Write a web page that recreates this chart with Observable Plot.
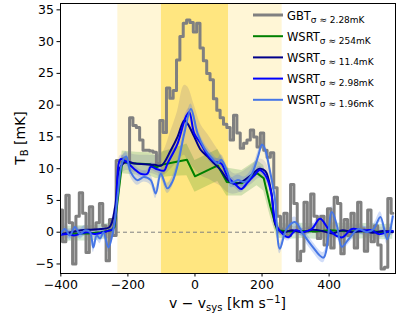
<!DOCTYPE html>
<html><head><meta charset="utf-8">
<script src="https://cdn.jsdelivr.net/npm/d3@7"></script>
<script src="https://cdn.jsdelivr.net/npm/@observablehq/plot@0.6"></script>
<style>body{margin:0;background:#fff} svg{display:block}</style>
</head><body><div id="chart"></div>
<script>
// ---- data ----
const xTicks = [-400, -200, 0, 200, 400];
const yTicks = [-5, 0, 5, 10, 15, 20, 25, 30, 35];

const spanLight = [-230, 260];
const spanDark = [-100, 100];

const gbtV = [-400,-390,-380,-370,-360,-350,-340,-330,-320,-310,-300,-290,-280,-270,-260,-250,-240,-230,-220,-210,-200,-190,-180,-170,-160,-150,-140,-130,-120,-110,-100,-90,-80,-70,-60,-50,-40,-30,-20,-10,0,10,20,30,40,50,60,70,80,90,100,110,120,130,140,150,160,170,180,190,200,210,220,230,240,250,260,270,280,290,300,310,320,330,340,350,360,370,380,390,400,410,420,430,440,450,460,470,480,490,500,510,520,530,540,550,560,570,580,590];
const gbtT = [3.5,-1.5,5.8,1.5,-5.0,2.5,6.2,3.0,-3.2,4.0,0.5,1.5,4.5,1.0,-4.5,2.0,-0.5,11.3,11.0,11.6,11.0,18.0,16.8,16.5,14.5,12.9,12.9,12.8,12.6,10.8,17.6,15.7,22.7,21.1,22.3,27.1,30.8,32.9,33.4,33.0,31.5,32.9,29.0,27.0,25.0,24.0,21.0,19.2,18.0,17.0,16.5,14.5,18.4,15.6,13.2,14.0,14.5,16.1,15.0,13.4,15.6,12.9,11.8,12.5,7.0,2.5,0.5,3.0,-0.5,7.5,4.5,-4.5,-3.0,4.7,0.5,6.0,2.5,-1.0,2.5,-2.0,3.7,-2.5,5.5,4.5,-3.4,2.0,-0.5,3.0,-2.5,4.7,0.5,-3.0,3.5,-1.5,1.0,-2.0,-5.8,-5.5,5.3,3.0];

const greenV = [-400,-360,-320,-280,-250,-240,-217,-175,-135,-115,-100,-62,-24,0,48,68,95,140,185,205,225,245,280,320,360,400,440,480,520,560,590];
const greenT = [-0.3,-0.2,-0.2,0.0,0.3,0.8,11.0,10.8,10.7,10.2,10.6,11.0,11.4,8.8,10.0,10.5,7.9,7.7,9.3,8.5,4.0,0.3,0.1,0.2,0.1,0.3,0.2,0.1,0.2,0.0,0.1];
const greenErr = [1.2,1.2,1.2,1.2,1.2,1.2,1.8,1.8,1.8,1.8,2.0,2.2,2.5,2.5,2.5,2.5,2.2,2.0,2.0,2.0,1.6,1.2,1.2,1.2,1.2,1.2,1.2,1.2,1.2,1.2,1.2];

const navyV = [-400,-370,-340,-310,-280,-255,-238,-225,-205,-180,-150,-120,-100,-72,-52,-32,-22,-2,18,38,58,78,98,118,138,168,193,210,228,240,260,290,320,350,380,410,440,470,500,530,560,590];
const navyT = [-0.3,0.0,0.3,0.4,0.5,0.8,4.0,10.0,11.1,10.8,10.7,10.6,10.5,12.9,15.0,17.6,17.1,15.0,12.9,11.9,10.8,9.7,8.2,7.6,7.9,9.0,10.0,9.6,6.2,1.2,0.0,0.3,0.0,0.4,0.2,-0.2,0.3,0.0,0.2,-0.1,0.2,0.0];
const navyErr = [0.6,0.6,0.6,0.6,0.6,0.6,0.9,1.3,1.4,1.4,1.4,1.5,1.8,3.0,4.0,5.5,5.8,5.0,4.0,3.5,3.0,2.5,2.0,1.6,1.5,1.5,1.5,1.5,1.2,0.9,0.6,0.6,0.6,0.6,0.6,0.6,0.6,0.6,0.6,0.6,0.6,0.6];

const blueV = [-400,-380,-360,-340,-320,-300,-280,-260,-245,-235,-222,-205,-182,-162,-142,-132,-112,-92,-82,-52,-27,-17,-2,18,38,58,78,98,123,138,158,178,193,213,228,240,253,278,300,320,348,373,398,423,440,468,498,528,548,578,590];
const blueT = [-0.4,-0.3,-0.5,-0.2,0.0,-0.3,-0.1,0.2,0.5,4.0,11.5,11.1,10.0,9.2,9.2,10.3,9.9,9.7,10.8,13.9,18.2,18.9,15.5,13.9,12.1,11.1,10.8,8.7,7.4,6.8,7.9,9.0,9.8,8.7,6.0,1.5,0.2,-0.8,0.3,0.0,0.5,2.1,0.5,-0.6,-0.8,0.5,0.3,0.3,-0.3,0.1,0.2];
const blueErr = 0.6;

const lblueV = [-403,-388,-373,-358,-343,-328,-313,-303,-293,-283,-273,-258,-243,-230,-217,-205,-192,-172,-152,-132,-117,-102,-82,-67,-52,-32,-12,8,28,48,68,78,98,108,128,148,168,188,200,210,223,238,253,273,298,323,348,383,408,423,438,458,488,513,533,553,573,590];
const lblueT = [-0.5,0.5,-0.5,0.8,-0.3,0.3,0.0,-2.4,-0.5,-1.0,0.0,-2.4,0.5,6.0,11.0,11.9,9.5,8.2,8.7,8.2,6.1,9.2,6.9,8.0,10.5,15.5,19.4,15.5,13.2,11.8,10.8,11.4,9.3,7.8,8.2,7.9,9.0,11.9,13.8,12.9,9.8,5.5,-2.6,0.5,1.6,-0.3,-2.1,-4.0,3.2,1.1,-2.3,-1.1,0.5,0.0,0.5,2.4,-1.1,2.5];
const lblueErr = 0.8;

const legendLabels = ["GBT", "WSRT", "WSRT", "WSRT", "WSRT"];
const legendSubs = ["σ ≈ 2.28mK", "σ ≈ 254mK", "σ ≈ 11.4mK", "σ ≈ 2.98mK", "σ ≈ 1.96mK"];

// ---- styles ----
const C = {gbt: "#808080", green: "#008000", navy: "#00008b", blue: "#0000ff", lblue: "#4676e6"};
const legendColors = [C.gbt, C.green, C.navy, C.blue, C.lblue];

const toRows = (V, T, E) => V.map((v, i) => ({v, t: T[i], e: Array.isArray(E) ? E[i] : E}));
const gbt = toRows(gbtV, gbtT, 0);
const green = toRows(greenV, greenT, greenErr);
const navy = toRows(navyV, navyT, navyErr);
const blue = toRows(blueV, blueT, blueErr);
const lblue = toRows(lblueV, lblueT, lblueErr);

const band = (rows, color, op, curve) => Plot.areaY(rows, {x: "v", y1: d => d.t - d.e, y2: d => d.t + d.e, fill: color, fillOpacity: op, curve, clip: true});
const line = (rows, color, w, curve) => Plot.line(rows, {x: "v", y: "t", stroke: color, strokeWidth: w, curve, clip: true});

const W = 399, H = 319;
const fmt = d3.format("d");
const svg = Plot.plot({
  width: W, height: H,
  marginLeft: 60, marginRight: 4, marginTop: 3, marginBottom: 46,
  style: {fontFamily: "DejaVu Sans", fontSize: "12.5px", color: "#000", background: "#fff"},
  x: {domain: [-401, 598], ticks: xTicks, tickFormat: fmt, label: null},
  y: {domain: [-6.5, 36], ticks: yTicks, tickFormat: fmt, label: null},
  marks: [
    Plot.rect([spanLight], {x1: d => d[0], x2: d => d[1], fill: "#fff6d6"}),
    Plot.rect([spanDark], {x1: d => d[0], x2: d => d[1], fill: "#ffe680"}),
    band(green, C.green, 0.18, "linear"),
    band(navy, C.navy, 0.1, "catmull-rom"),
    band(blue, C.blue, 0.12, "catmull-rom"),
    band(lblue, C.lblue, 0.25, "catmull-rom"),
    line(gbt, C.gbt, 3, "step"),
    Plot.ruleY([0], {stroke: "#808080", strokeWidth: 1, strokeDasharray: "4,3"}),
    line(green, C.green, 2, "linear"),
    line(navy, C.navy, 2, "catmull-rom"),
    line(blue, C.blue, 2, "catmull-rom"),
    line(lblue, C.lblue, 2, "catmull-rom"),
    Plot.frame({stroke: "#000", strokeWidth: 1}),
    Plot.axisX({ticks: xTicks, tickFormat: fmt, tickSize: 3.5, tickPadding: 3, label: null, fontSize: 12.5}),
    Plot.axisY({ticks: yTicks, tickFormat: fmt, tickSize: 3.5, tickPadding: 3, label: null, fontSize: 12.5})
  ]
});

const s = d3.select(svg);
// legend
const lg = s.append("g").attr("font-family", "DejaVu Sans").attr("text-anchor", "start");
legendLabels.forEach((lab, i) => {
  const y = 15 + i * 21.2;
  lg.append("line").attr("x1", 253).attr("x2", 283).attr("y1", y).attr("y2", y)
    .attr("stroke", legendColors[i]).attr("stroke-width", i === 0 ? 3 : 2);
  const t = lg.append("text").attr("x", 287).attr("y", y + 4.5).attr("font-size", 11.5)
    .attr("fill", "#000").attr("text-anchor", "start");
  t.append("tspan").text(lab);
  t.append("tspan").attr("dy", 3).attr("font-size", 9).text(legendSubs[i]);
});
// y label
const yl = s.append("text").attr("transform", "translate(25,138) rotate(-90)")
  .attr("text-anchor", "middle").attr("font-family", "DejaVu Sans").attr("font-size", 14).attr("fill", "#000");
yl.append("tspan").text("T");
yl.append("tspan").attr("dy", 3).attr("font-size", 10).text("B");
yl.append("tspan").attr("dy", -3).text(" [mK]");
// x label
const xl = s.append("text").attr("x", 227.5).attr("y", 308)
  .attr("text-anchor", "middle").attr("font-family", "DejaVu Sans").attr("font-size", 14).attr("fill", "#000");
xl.append("tspan").text("v − v");
xl.append("tspan").attr("dy", 3).attr("font-size", 10).text("sys");
xl.append("tspan").attr("dy", -3).text(" [km s");
xl.append("tspan").attr("dy", -5).attr("font-size", 10).text("−1");
xl.append("tspan").attr("dy", 5).text("]");

document.getElementById("chart").appendChild(svg);
</script></body></html>
